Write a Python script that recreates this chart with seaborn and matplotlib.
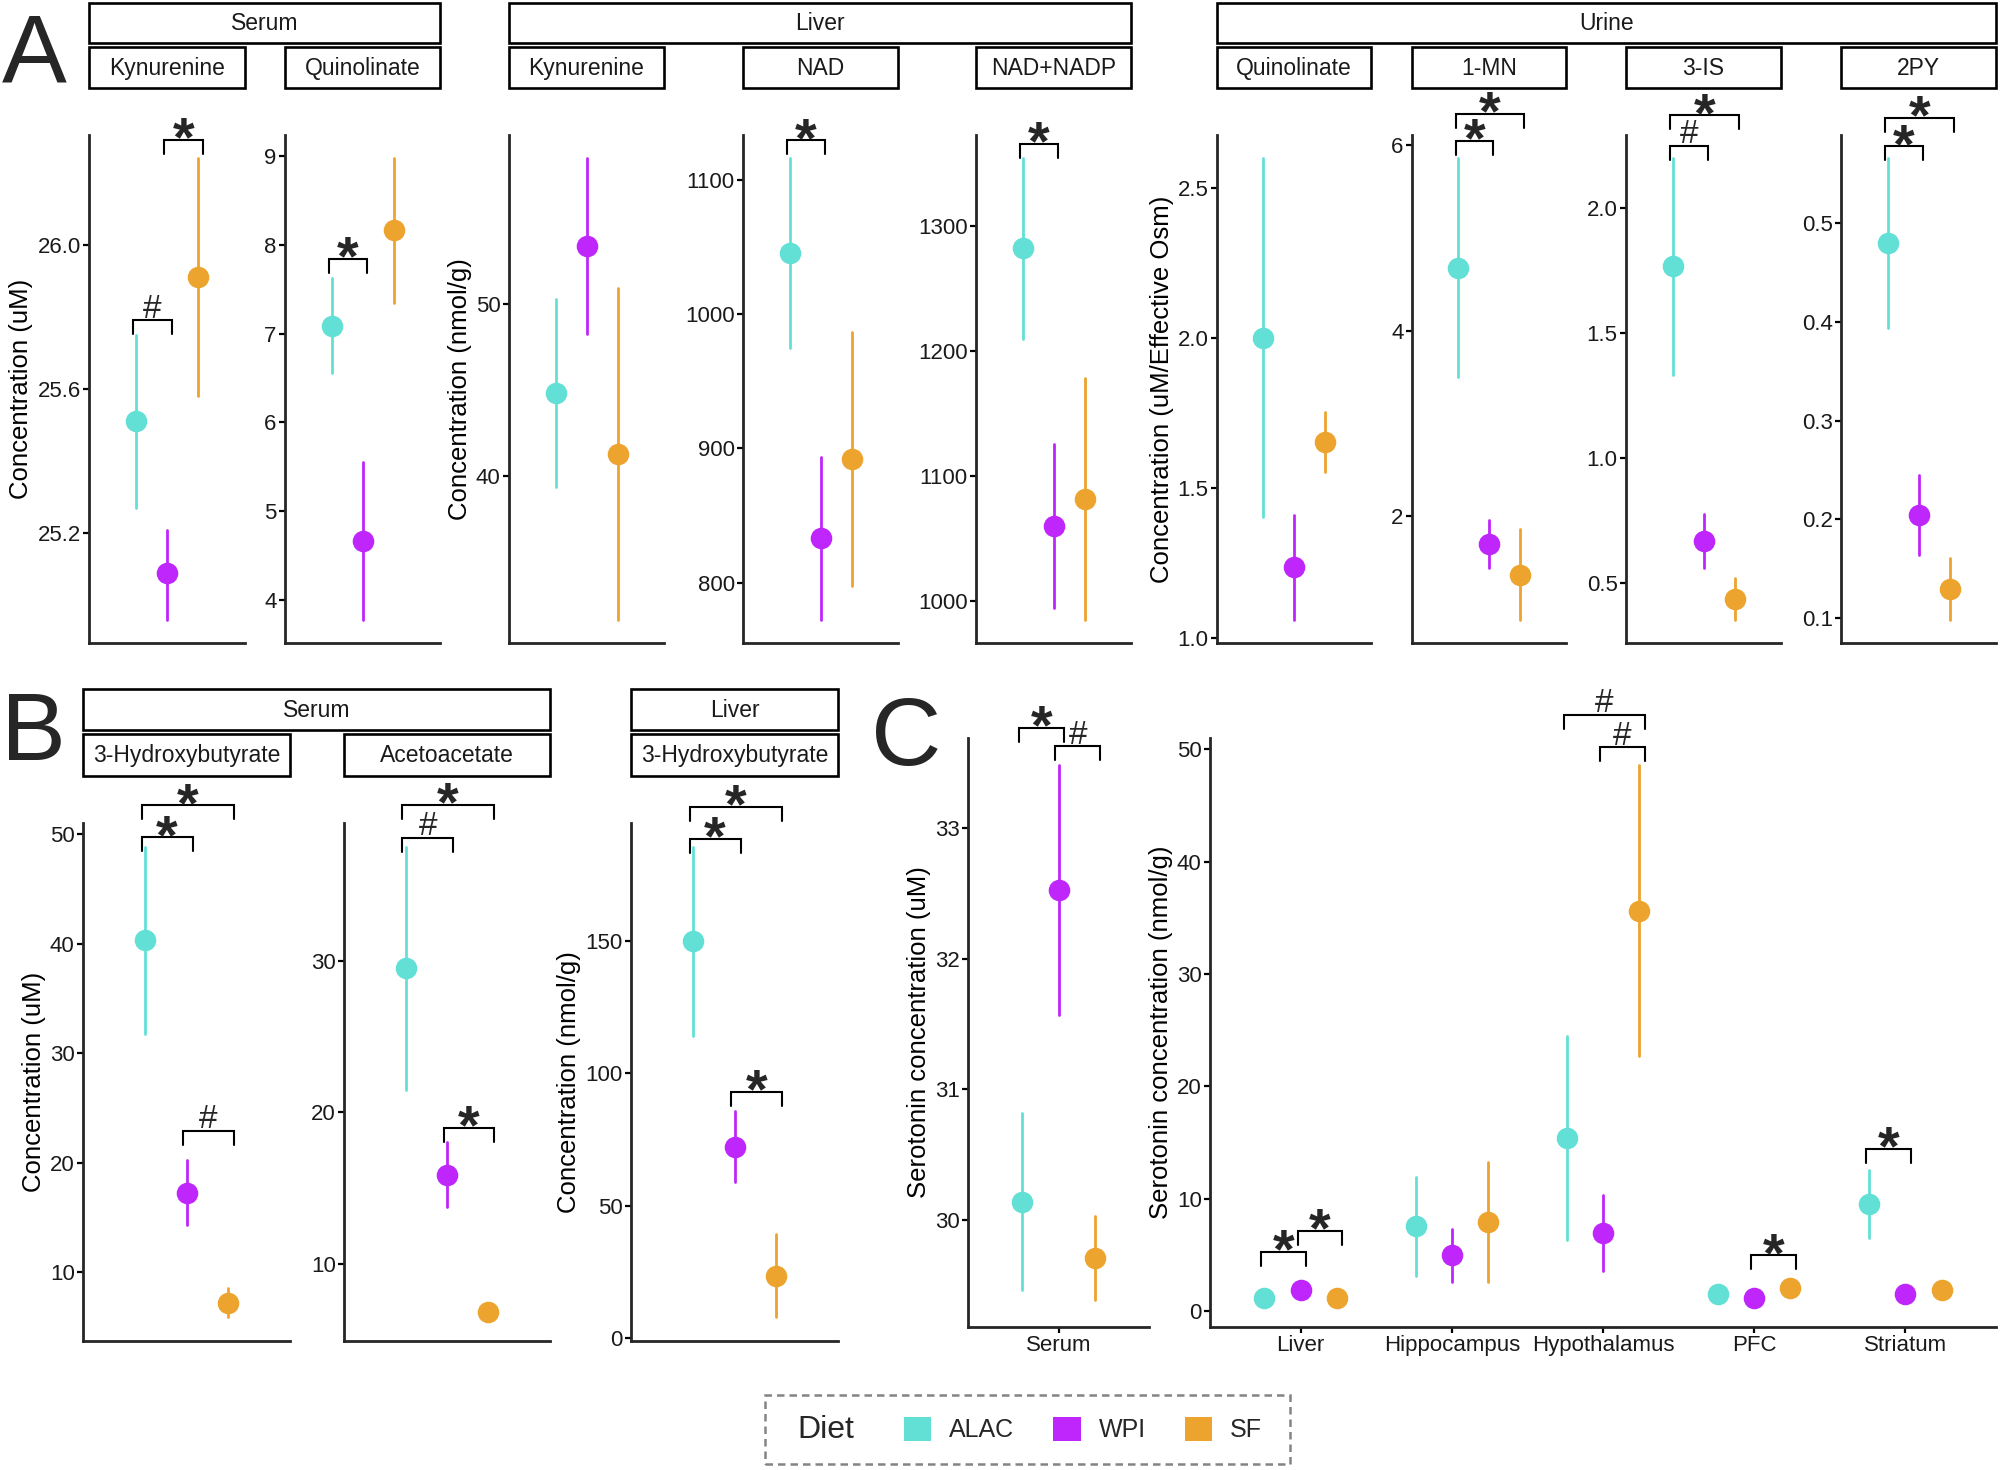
import numpy as np
import pandas as pd
import seaborn as sns
import matplotlib.pyplot as plt
from matplotlib.patches import Rectangle, Patch
from matplotlib.offsetbox import HPacker, DrawingArea

# groups and colours
diets = ['ALAC', 'WPI', 'SF']
diet_colors = ['#63E0D6', '#BF26FB', '#EDA42E']

# (lower, point, upper) per diet in order ALAC, WPI, SF
a_serum_kyn = [(25.27, 25.51, 25.75), (24.96, 25.09, 25.21), (25.58, 25.91, 26.24)]
a_serum_quin = [(6.56, 7.09, 7.63), (3.77, 4.66, 5.55), (7.35, 8.17, 8.98)]
a_liver_kyn = [(39.40, 44.82, 50.29), (48.24, 53.35, 58.48), (31.66, 41.30, 50.96)]
a_liver_nad = [(974.7, 1045.4, 1116.0), (772.5, 833.3, 893.8), (797.5, 892.3, 987.0)]
a_liver_nadp = [(1209.2, 1281.8, 1354.0), (995.0, 1060.4, 1125.3), (985.1, 1081.9, 1178.4)]
a_urine_quin = [(1.404, 2.000, 2.601), (1.061, 1.238, 1.411), (1.554, 1.653, 1.754)]
a_urine_mn = [(3.502, 4.670, 5.857), (1.446, 1.700, 1.955), (0.883, 1.365, 1.857)]
a_urine_is = [(1.334, 1.766, 2.199), (0.563, 0.671, 0.778), (0.354, 0.437, 0.520)]
a_urine_2py = [(0.394, 0.480, 0.566), (0.164, 0.204, 0.245), (0.098, 0.129, 0.161)]

b_serum_hb = [(31.76, 40.37, 48.89), (14.28, 17.25, 20.23), (5.88, 7.19, 8.53)]
b_serum_aa = [(21.47, 29.51, 37.55), (13.72, 15.85, 18.01), (6.45, 6.80, 7.15)]
b_liver_hb = [(114.1, 150.0, 185.8), (58.9, 72.2, 85.7), (7.7, 23.3, 39.2)]

c_serum = [(29.47, 30.14, 30.82), (31.57, 32.52, 33.48), (29.39, 29.71, 30.03)]
c_tissues = ['Liver', 'Hippocampus', 'Hypothalamus', 'PFC', 'Striatum']
c_tissue_alac = [(0.98, 1.20, 1.42), (3.12, 7.56, 11.91), (6.32, 15.38, 24.52), (1.30, 1.50, 1.70), (6.51, 9.52, 12.57)]
c_tissue_wpi = [(1.70, 1.89, 2.10), (2.58, 4.97, 7.36), (3.62, 6.98, 10.37), (1.00, 1.20, 1.40), (1.30, 1.50, 1.70)]
c_tissue_sf = [(1.00, 1.20, 1.40), (2.58, 7.94, 13.26), (22.71, 35.62, 48.61), (1.85, 2.08, 2.30), (1.70, 1.89, 2.10)]

# y tick labels
a_serum_kyn_ticks = ['25.2', '25.6', '26.0']
a_serum_quin_ticks = ['4', '5', '6', '7', '8', '9']
a_liver_kyn_ticks = ['40', '50']
a_liver_nad_ticks = ['800', '900', '1000', '1100']
a_liver_nadp_ticks = ['1000', '1100', '1200', '1300']
a_urine_quin_ticks = ['1.0', '1.5', '2.0', '2.5']
a_urine_mn_ticks = ['2', '4', '6']
a_urine_is_ticks = ['0.5', '1.0', '1.5', '2.0']
a_urine_2py_ticks = ['0.1', '0.2', '0.3', '0.4', '0.5']
b_serum_hb_ticks = ['10', '20', '30', '40', '50']
b_serum_aa_ticks = ['10', '20', '30']
b_liver_hb_ticks = ['0', '50', '100', '150']
c_serum_ticks = ['30', '31', '32', '33']
c_tissue_ticks = ['0', '10', '20', '30', '40', '50']

# significance brackets: (diet a, diet b, y, label); tissue panel adds a category index first
a_serum_kyn_sig = [(0, 1, 25.79, '#'), (1, 2, 26.29, '*')]
a_serum_quin_sig = [(0, 1, 7.84, '*')]
a_liver_kyn_sig = []
a_liver_nad_sig = [(0, 1, 1129.3, '*')]
a_liver_nadp_sig = [(0, 1, 1365.6, '*')]
a_urine_quin_sig = []
a_urine_mn_sig = [(0, 1, 6.045, '*'), (0, 2, 6.335, '*')]
a_urine_is_sig = [(0, 1, 2.249, '#'), (0, 2, 2.370, '*')]
a_urine_2py_sig = [(0, 1, 0.578, '*'), (0, 2, 0.607, '*')]
b_serum_hb_sig = [(0, 1, 49.72, '*'), (0, 2, 52.66, '*'), (1, 2, 22.92, '#')]
b_serum_aa_sig = [(0, 1, 38.13, '#'), (0, 2, 40.29, '*'), (1, 2, 18.96, '*')]
b_liver_hb_sig = [(0, 1, 188.7, '*'), (0, 2, 200.9, '*'), (1, 2, 93.1, '*')]
c_serum_sig = [(0, 1, 33.76, '*'), (1, 2, 33.62, '#')]
c_tissue_sig = [(0, 0, 1, 5.28, '*'), (0, 1, 2, 7.17, '*'), (2, 1, 2, 50.15, '#'),
                (2, 0, 2, 53.08, '#'), (3, 1, 2, 4.97, '*'), (4, 0, 1, 14.42, '*')]

sns.set_theme(style='ticks')
plt.rcParams['font.family'] = ['Liberation Sans', 'DejaVu Sans']
plt.rcParams['axes.linewidth'] = 2.0
# mathtext only for the significance marks, so their boxes hug the glyphs
plt.rcParams['mathtext.fontset'] = 'custom'
plt.rcParams['mathtext.rm'] = 'Liberation Sans'
plt.rcParams['mathtext.bf'] = 'Liberation Sans:bold'

W, H = 2000, 1470
fig = plt.figure(figsize=(W / 100, H / 100), dpi=100)


def fx(px):
    return px / W


def fy(py):
    return 1 - py / H


def make_axes(x0, x1, y0, y1):
    return fig.add_axes([fx(x0), fy(y1), fx(x1) - fx(x0), fy(y0) - fy(y1)])


def strip(x0, x1, y0, y1, text):
    fig.add_artist(Rectangle((fx(x0), fy(y1)), fx(x1) - fx(x0), fy(y0) - fy(y1),
                             transform=fig.transFigure, facecolor='white',
                             edgecolor='black', lw=1.9))
    fig.text(fx((x0 + x1) / 2), fy((y0 + y1) / 2 + 1), text, ha='center', va='center',
             fontsize=16.5, color='#1a1a1a')


DODGE = 0.48


def draw(ax, cats, rows, ticks, sig, ylabel=None, show_x=False):
    recs = []
    for diet, per_cat in zip(diets, rows):
        for cat, trio in zip(cats, per_cat):
            for v in trio:
                recs.append((cat, diet, v))
    df = pd.DataFrame(recs, columns=['cat', 'Diet', 'value'])
    sns.pointplot(data=df, x='cat', y='value', hue='Diet', order=cats, hue_order=diets,
                  palette=diet_colors, estimator='median', errorbar=('pi', 100),
                  dodge=DODGE, linestyle='none', markers='o', markersize=13.5,
                  err_kws={'linewidth': 2.0}, legend=False, ax=ax)
    lo = min(t[0] for r in rows for t in r)
    hi = max(t[2] for r in rows for t in r)
    pad = 0.05 * (hi - lo)
    ax.set_ylim(lo - pad, hi + pad)
    ax.set_xlim(-0.6, len(cats) - 0.4)
    ax.set_yticks([float(t) for t in ticks], labels=ticks)
    if show_x:
        ax.set_xticks(range(len(cats)), labels=cats)
    else:
        ax.set_xticks([])
    ax.set_xlabel('')
    ax.set_ylabel(ylabel if ylabel else '', fontsize=18.5, labelpad=3, color='black')
    ax.tick_params(axis='both', length=4, width=1.6, labelsize=16,
                   color='black', labelcolor='#1a1a1a', pad=2)
    sns.despine(ax=ax)

    tip = 14 / ax.bbox.height * (ax.get_ylim()[1] - ax.get_ylim()[0])
    for s in sig:
        if len(s) == 4:
            s = (0,) + tuple(s)
        cat, g1, g2, y, label = s
        x1 = cat + (g1 - 1) * DODGE / 2 - 0.02
        x2 = cat + (g2 - 1) * DODGE / 2 + 0.035
        ax.plot([x1, x1, x2, x2], [y - tip, y, y, y - tip], color='black', lw=1.5,
                clip_on=False, solid_joinstyle='miter')
        if label == '*':
            ax.annotate(r'$\mathbf{*}$', xy=((x1 + x2) / 2, y), xytext=(0, -10.5),
                        textcoords='offset points', ha='center', va='baseline',
                        fontsize=40, annotation_clip=False)
        else:
            ax.annotate(label, xy=((x1 + x2) / 2, y), xytext=(0, 2), textcoords='offset points',
                        ha='center', va='baseline', fontsize=24, annotation_clip=False)


# ---- panel A ----
A_TOP, A_BOT = 135, 643
panels_a = [
    (a_serum_kyn, a_serum_kyn_ticks, a_serum_kyn_sig, (89, 245), 'Kynurenine', 'Concentration (uM)'),
    (a_serum_quin, a_serum_quin_ticks, a_serum_quin_sig, (285, 440), 'Quinolinate', None),
    (a_liver_kyn, a_liver_kyn_ticks, a_liver_kyn_sig, (509, 664), 'Kynurenine', 'Concentration (nmol/g)'),
    (a_liver_nad, a_liver_nad_ticks, a_liver_nad_sig, (743, 898), 'NAD', None),
    (a_liver_nadp, a_liver_nadp_ticks, a_liver_nadp_sig, (976, 1131), 'NAD+NADP', None),
    (a_urine_quin, a_urine_quin_ticks, a_urine_quin_sig, (1217, 1371), 'Quinolinate',
     'Concentration (uM/Effective Osm)'),
    (a_urine_mn, a_urine_mn_ticks, a_urine_mn_sig, (1412, 1566), '1-MN', None),
    (a_urine_is, a_urine_is_ticks, a_urine_is_sig, (1626, 1781), '3-IS', None),
    (a_urine_2py, a_urine_2py_ticks, a_urine_2py_sig, (1841, 1996), '2PY', None),
]
for vals, ticks, sig, (x0, x1), name, ylab in panels_a:
    ax = make_axes(x0, x1, A_TOP, A_BOT)
    draw(ax, ['v'], [[t] for t in vals], ticks, sig, ylab)
    strip(x0, x1, 47, 88, name)
strip(89, 440, 3, 43, 'Serum')
strip(509, 1131, 3, 43, 'Liver')
strip(1217, 1996, 3, 43, 'Urine')

# ---- panel B ----
B_TOP, B_BOT = 823, 1341
panels_b = [
    (b_serum_hb, b_serum_hb_ticks, b_serum_hb_sig, (83, 290), '3-Hydroxybutyrate', 'Concentration (uM)'),
    (b_serum_aa, b_serum_aa_ticks, b_serum_aa_sig, (344, 550), 'Acetoacetate', None),
    (b_liver_hb, b_liver_hb_ticks, b_liver_hb_sig, (631, 838), '3-Hydroxybutyrate', 'Concentration (nmol/g)'),
]
for vals, ticks, sig, (x0, x1), name, ylab in panels_b:
    ax = make_axes(x0, x1, B_TOP, B_BOT)
    draw(ax, ['v'], [[t] for t in vals], ticks, sig, ylab)
    strip(x0, x1, 734, 776, name)
strip(83, 550, 689, 730, 'Serum')
strip(631, 838, 689, 730, 'Liver')

# ---- panel C ----
C_TOP, C_BOT = 738, 1327
ax = make_axes(968, 1149, C_TOP, C_BOT)
draw(ax, ['Serum'], [[t] for t in c_serum], c_serum_ticks, c_serum_sig,
     'Serotonin concentration (uM)', show_x=True)
ax = make_axes(1210, 1996, C_TOP, C_BOT)
draw(ax, c_tissues, [c_tissue_alac, c_tissue_wpi, c_tissue_sf], c_tissue_ticks, c_tissue_sig,
     'Serotonin concentration (nmol/g)', show_x=True)

# panel letters
fig.text(fx(2), fy(81), 'A', fontsize=70, va='baseline', ha='left')
fig.text(fx(1), fy(760), 'B', fontsize=70, va='baseline', ha='left')
fig.text(fx(871), fy(765), 'C', fontsize=70, va='baseline', ha='left')

# legend with the title on the left
handles = [Patch(facecolor=c, edgecolor='none') for c in diet_colors]
leg = fig.legend(handles, diets, title='Diet', ncol=3, loc='center',
                 bbox_to_anchor=(fx(1027.5), fy(1429.5)), frameon=True, fancybox=False,
                 fontsize=18, title_fontsize=23, handlelength=1.1, handleheight=1.1,
                 handletextpad=0.72, columnspacing=1.55)
inner = HPacker(pad=0, sep=36, align='center',
                children=[leg._legend_title_box, leg._legend_handle_box])
leg._legend_box = HPacker(pad=14, sep=0, align='center',
                          children=[DrawingArea(9, 1), inner, DrawingArea(6, 1)])
leg._legend_box.set_figure(fig)
leg._legend_box.axes = leg.axes
leg._legend_box.set_offset(leg._findoffset)
frame = leg.get_frame()
frame.set_edgecolor('#666666')
frame.set_linewidth(1.8)
frame.set_linestyle((0, (3, 2)))

fig.savefig('out.png', dpi=100)
